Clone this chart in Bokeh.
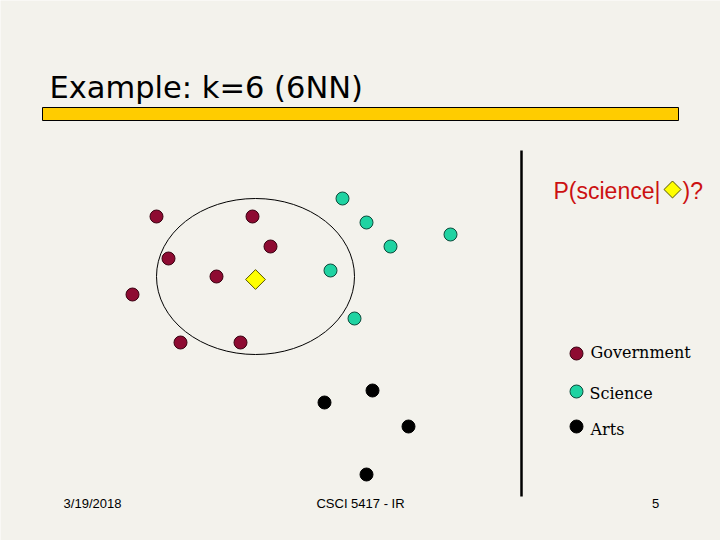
import math
from bokeh.plotting import figure
from bokeh.models import Range1d
from bokeh.core.properties import value
from bokeh.embed import file_html
from bokeh.resources import INLINE

# Data (slide pixel coordinates)
gov_x = [156, 252, 270, 168, 216, 132, 180, 240]
gov_y = [216, 216, 246, 258, 276, 294, 342, 342]
sci_x = [342, 366, 390, 450, 330, 354]
sci_y = [198, 222, 246, 234, 270, 318]
arts_x = [372, 324, 408, 366]
arts_y = [390, 402, 426, 474]
query_x = [255]
query_y = [279]
legend_labels = ["Government", "Science", "Arts"]
title_text = "Example: k=6 (6NN)"
footer_texts = ["3/19/2018", "CSCI 5417 - IR", "5"]

GOV = "#8E0B32"
SCI = "#1FD3A2"
ART = "#000000"
BG = "#F3F2EC"

p = figure(width=720, height=540, output_backend="svg", toolbar_location=None,
           x_range=Range1d(0, 720), y_range=Range1d(540, 0),
           min_border=0, background_fill_color=BG, border_fill_color=BG,
           outline_line_color=None)
p.axis.visible = False
p.grid.visible = False

# Title and yellow bar
p.text(x=[49], y=[87], text=[title_text], text_font=value("DejaVu Sans"),
       text_font_size="30.5px", text_color="black", text_baseline="middle", text_align="left")
p.quad(left=[42], right=[678], top=[107], bottom=[120], fill_color="#FFCC00",
       line_color="black", line_width=1)

# Ellipse of 6 nearest neighbours
p.ellipse(x=[255], y=[276], width=[198], height=[156], fill_color=None,
          line_color="black", line_width=1)

# Points
p.scatter(gov_x, gov_y, size=13, fill_color=GOV, line_color="#3a0010", line_width=1)
p.scatter(sci_x, sci_y, size=13, fill_color=SCI, line_color="#0a4a3a", line_width=1)
p.scatter(arts_x, arts_y, size=13, fill_color=ART, line_color="black", line_width=1)
p.scatter(query_x, query_y, marker="square", angle=math.pi / 4, size=14,
          fill_color="#FFFF00", line_color="#555500", line_width=1)

# Vertical separator
p.segment(x0=[521], y0=[150], x1=[521], y1=[496], line_color="black", line_width=2.5)

# P(science| <> )?
p.text(x=[553], y=[190], text=["P(science|"], text_font=value("Liberation Sans"),
       text_font_size="23px", text_color="#CC1111", text_baseline="middle", text_align="left")
p.scatter([672], [189], marker="square", angle=math.pi / 4, size=12,
          fill_color="#FFFF00", line_color="#555500", line_width=1)
p.text(x=[682], y=[190], text=[")?"], text_font=value("Liberation Sans"),
       text_font_size="23px", text_color="#CC1111", text_baseline="middle", text_align="left")

# Legend
leg_y = [353, 391, 426]
p.scatter([576, 576, 576], leg_y, size=13,
          fill_color=[GOV, SCI, ART], line_color=["#3a0010", "#0a4a3a", "black"], line_width=1)
p.text(x=[590, 589, 590], y=[352, 393, 429], text=legend_labels,
       text_font=value("DejaVu Serif"), text_font_size="16px", text_color="black",
       text_baseline="middle", text_align="left")

# Footer
p.text(x=[92, 360, 655], y=[503, 503, 503], text=footer_texts,
       text_font=value("Liberation Sans"), text_font_size="13px", text_color="black",
       text_baseline="middle", text_align="center")

open("out.html", "w").write(file_html(p, INLINE))
